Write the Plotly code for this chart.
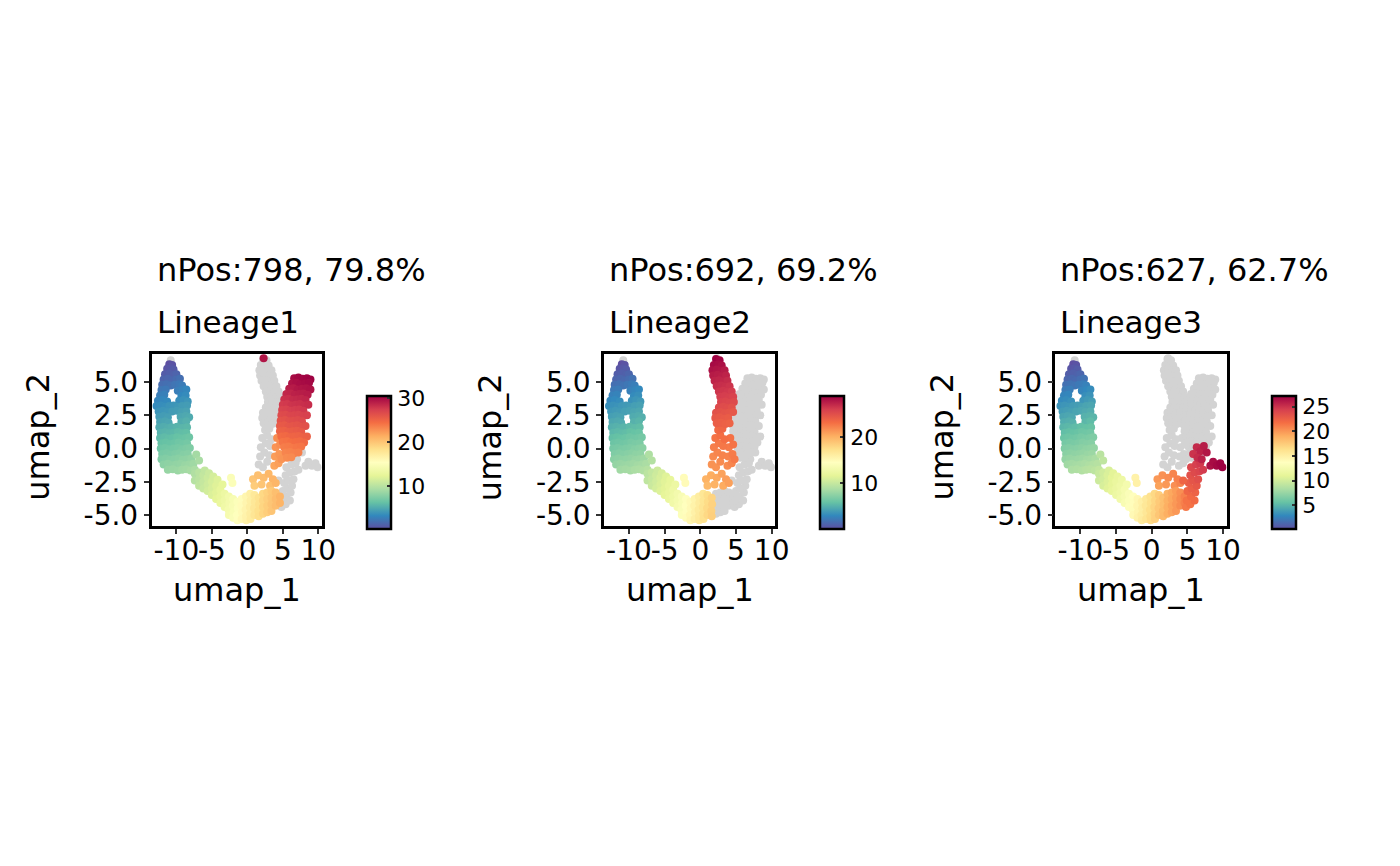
import plotly.graph_objects as go

# ---- cells: umap coordinates and pseudotime, grouped by region ----
# left arm (early trunk, shared by all lineages)
arm_umap1 = [
    -11.0, -10.6,
    -11.3, -10.8, -10.4,
    -11.6, -11.0, -10.4, -10.0,
    -11.8, -11.2, -10.6, -10.0, -9.5,
    -12.0, -11.4, -10.8, -10.2, -9.6, -9.2,
    -12.1, -11.5, -9.8, -9.1, -8.6,
    -12.3, -11.7, -9.3, -8.7,
    -12.6, -12.0, -11.3, -9.6, -9.0, -8.4,
    -12.8, -12.2, -11.6, -11.0, -10.4, -9.8, -9.2, -8.5,
    -12.5, -11.9, -11.3, -10.6, -9.9, -9.3, -8.6,
    -12.4, -11.8, -11.2, -9.4, -8.7, -8.2,
    -12.3, -11.6, -11.1, -9.3, -8.6,
    -12.4, -11.8, -11.2, -10.7, -9.9, -9.2, -8.5,
    -12.2, -11.6, -11.0, -10.4, -9.8, -9.2, -8.6,
    -12.3, -11.7, -11.1, -10.5, -9.9, -9.3, -8.7, -8.2,
    -12.1, -11.5, -10.9, -10.3, -9.7, -9.1, -8.5,
    -12.2, -11.6, -11.0, -10.4, -9.8, -9.2, -8.6, -8.1,
    -12.0, -11.4, -10.8, -10.2, -9.6, -9.0, -8.4,
    -12.1, -11.5, -10.9, -10.3, -9.7, -9.1, -8.5, -7.9,
    -11.8, -11.2, -10.6, -10.0, -9.4, -8.8, -8.2, -7.6,
    -11.2, -10.5, -9.8, -9.2, -8.6, -8.0, -7.4,
    -7.2, -6.8,
]
arm_umap2 = [
    6.35, 6.3,
    6.0, 6.05, 5.95,
    5.6, 5.65, 5.55, 5.6,
    5.2, 5.25, 5.15, 5.2, 5.25,
    4.8, 4.85, 4.75, 4.8, 4.85, 4.75,
    4.4, 4.45, 4.35, 4.4, 4.45,
    4.0, 4.05, 3.95, 4.0,
    3.6, 3.65, 3.55, 3.6, 3.65, 3.55,
    3.2, 3.25, 3.15, 3.2, 3.25, 3.15, 3.2, 3.25,
    2.8, 2.85, 2.75, 2.8, 2.85, 2.75, 2.8,
    2.4, 2.45, 2.35, 2.4, 2.45, 2.35,
    2.0, 2.05, 1.95, 2.0, 2.05,
    1.6, 1.65, 1.55, 1.6, 1.65, 1.55, 1.6,
    1.2, 1.25, 1.15, 1.2, 1.25, 1.15, 1.2,
    0.8, 0.85, 0.75, 0.8, 0.85, 0.75, 0.8, 0.85,
    0.4, 0.45, 0.35, 0.4, 0.45, 0.35, 0.4,
    0.0, 0.05, -0.05, 0.0, 0.05, -0.05, 0.0, 0.05,
    -0.4, -0.35, -0.45, -0.4, -0.35, -0.45, -0.4,
    -0.8, -0.75, -0.85, -0.8, -0.75, -0.85, -0.8, -0.75,
    -1.2, -1.15, -1.25, -1.2, -1.15, -1.25, -1.2, -1.15,
    -1.6, -1.55, -1.65, -1.6, -1.55, -1.65, -1.6,
    -0.45, -0.9,
]
arm_pt = [
    0.2, 0.4,
    0.5, 0.6, 0.8,
    0.9, 1.0, 1.1, 1.3,
    1.3, 1.4, 1.5, 1.7, 1.9,
    1.8, 1.9, 2.0, 2.2, 2.4, 2.6,
    2.3, 2.4, 2.7, 2.9, 3.1,
    2.7, 2.8, 3.2, 3.4,
    3.0, 3.1, 3.3, 3.5, 3.7, 3.9,
    3.4, 3.5, 3.6, 3.8, 3.9, 4.0, 4.2, 4.3,
    3.8, 3.9, 4.0, 4.2, 4.3, 4.5, 4.6,
    4.2, 4.3, 4.4, 4.8, 4.9, 5.0,
    4.6, 4.7, 4.8, 5.1, 5.3,
    5.0, 5.1, 5.2, 5.3, 5.5, 5.6, 5.7,
    5.4, 5.5, 5.6, 5.7, 5.9, 6.0, 6.1,
    5.8, 5.9, 6.0, 6.1, 6.3, 6.4, 6.5, 6.6,
    6.2, 6.3, 6.4, 6.5, 6.7, 6.8, 6.9,
    6.6, 6.7, 6.8, 6.9, 7.0, 7.2, 7.3, 7.4,
    7.0, 7.1, 7.2, 7.3, 7.4, 7.6, 7.7,
    7.4, 7.5, 7.6, 7.7, 7.8, 8.0, 8.1, 8.3,
    7.9, 8.0, 8.1, 8.2, 8.3, 8.5, 8.6, 8.8,
    8.4, 8.5, 8.6, 8.8, 8.9, 9.1, 9.3,
    9.0, 9.2,
]

# bottom band (trunk, shared by all lineages)
bottom_umap1 = [
    -7.4, -7.4,
    -6.8, -6.8, -6.8,
    -6.2, -6.2, -6.2,
    -5.6, -5.6, -5.6,
    -5.0, -5.0, -5.0,
    -4.4, -4.4, -4.4,
    -3.8, -3.8, -3.8,
    -3.2, -3.2, -3.2,
    -2.6, -2.55, -2.65, -2.6,
    -2.0, -2.05, -1.95, -2.0,
    -1.4, -1.35, -1.45, -1.4,
    -0.8, -0.85, -0.75, -0.8,
    -0.2, -0.15, -0.25, -0.2, -0.15,
    0.4, 0.45, 0.35, 0.4, 0.45,
    1.0, 1.05, 0.95, 1.0,
    1.6, 1.65, 1.55, 1.6,
    -2.3, -2.1,
    -6.0, -5.4, -4.8, -4.2, -3.5,
]
bottom_umap2 = [
    -1.9, -2.4,
    -1.8, -2.3, -2.8,
    -2.0, -2.5, -3.0,
    -2.2, -2.7, -3.2,
    -2.5, -3.0, -3.5,
    -2.8, -3.3, -3.8,
    -3.1, -3.6, -4.1,
    -3.4, -3.9, -4.4,
    -3.6, -4.1, -4.6, -5.0,
    -3.8, -4.3, -4.8, -5.2,
    -4.0, -4.5, -5.0, -5.4,
    -3.8, -4.3, -4.8, -5.3,
    -3.6, -4.1, -4.6, -5.1, -5.4,
    -3.4, -3.9, -4.4, -4.9, -5.3,
    -3.5, -4.0, -4.5, -5.0,
    -3.7, -4.2, -4.7, -5.1,
    -2.2, -2.6,
    -1.65, -1.85, -2.1, -2.35, -2.7,
]
bottom_pt = [
    9.6, 9.8,
    10.0, 10.1, 10.3,
    10.5, 10.6, 10.8,
    11.0, 11.1, 11.3,
    11.5, 11.6, 11.8,
    12.0, 12.1, 12.3,
    12.6, 12.7, 12.9,
    13.2, 13.3, 13.5,
    13.8, 13.9, 14.0, 14.2,
    14.4, 14.5, 14.6, 14.8,
    15.0, 15.1, 15.2, 15.4,
    15.6, 15.7, 15.8, 16.0,
    16.2, 16.3, 16.4, 16.5, 16.6,
    16.8, 16.9, 17.0, 17.1, 17.2,
    17.5, 17.6, 17.7, 17.8,
    18.1, 18.2, 18.3, 18.4,
    14.8, 14.9,
    10.4, 10.9, 11.4, 11.9, 12.5,
]

# scattered cells above the bottom band (shared by all lineages)
mid_umap1 = [0.8, 1.5, 2.3, 3.0, 3.6, 1.0, 2.0, 3.2, 4.0]
mid_umap2 = [-2.3, -2.0, -2.2, -1.9, -2.3, -2.8, -2.7, -2.8, -2.6]
mid_pt = [20.0, 20.3, 20.5, 20.8, 21.0, 19.6, 20.0, 20.4, 20.9]

# bottom right (Lineage1 and Lineage3)
botright_umap1 = [2.2, 2.2, 2.2, 2.2, 2.8, 2.8, 2.8, 2.8, 3.4, 3.4, 3.4, 3.4,
                  4.0, 4.0, 4.0, 4.6, 4.6]
botright_umap2 = [-3.4, -3.9, -4.4, -4.9, -3.3, -3.8, -4.3, -4.8, -3.2, -3.7,
                  -4.2, -4.7, -3.3, -3.8, -4.3, -3.6, -4.1]
botright_pt = [18.8, 18.9, 19.0, 19.0, 19.3, 19.4, 19.5, 19.5, 19.8, 19.9,
               20.0, 20.0, 20.4, 20.5, 20.5, 21.0, 21.0]

# lower right stem (Lineage3 only)
lowright_umap1 = [4.8, 5.4, 6.0, 4.9, 5.5, 6.1, 5.0, 5.6, 6.3, 5.2, 5.8, 6.5,
                  5.4, 6.0, 6.7, 5.5, 6.2, 6.8, 4.4, 7.2]
lowright_umap2 = [-4.4, -4.2, -3.9, -3.9, -3.6, -3.3, -3.2, -3.0, -2.8, -2.6,
                  -2.4, -2.3, -2.0, -1.8, -1.7, -1.4, -1.2, -1.1, -2.4, -1.6]
lowright_pt = [21.3, 21.6, 22.0, 21.6, 22.0, 22.4, 22.2, 22.6, 23.0, 22.8,
               23.2, 23.5, 23.4, 23.8, 24.1, 24.0, 24.4, 24.7, 22.3, 24.6]

# right tip (Lineage3 only)
tip_umap1 = [5.8, 6.3, 6.8, 7.3, 7.7, 6.4, 7.0, 8.2, 8.6, 9.1, 9.6, 9.9]
tip_umap2 = [-0.4, 0.1, -0.2, 0.2, -0.3, -0.7, -0.8, -1.3, -1.0, -1.3, -1.1, -1.4]
tip_pt = [25.0, 25.4, 25.7, 26.0, 26.2, 25.3, 25.8, 26.5, 26.7, 26.9, 27.1, 27.2]

# junction of the two upper arms (Lineage1 and Lineage2)
junction_umap1 = [3.8, 4.4, 3.9, 4.5, 4.0, 4.6, 4.2, 4.8]
junction_umap2 = [-1.3, -1.1, -0.6, -0.4, 0.1, 0.3, 0.8, -0.8]
junction_pt = [21.8, 22.1, 22.2, 22.5, 22.6, 22.9, 23.0, 22.6]

# lower part of the middle arm (Lineage2 only)
armalow_umap1 = [1.6, 2.2, 2.8, 1.8, 2.4, 3.1, 1.9, 2.6, 3.2, 2.1, 2.8, 3.4, 2.5, 3.1]
armalow_umap2 = [-1.2, -1.4, -1.0, -0.6, -0.3, -0.5, 0.1, 0.4, 0.2, 0.8, 1.0, 0.7, 1.4, 1.5]
armalow_pt = [21.5, 21.5, 21.8, 21.9, 22.1, 22.2, 22.4, 22.6, 22.7, 22.9, 23.1, 23.1, 23.4, 23.6]

# middle arm (Lineage2 only)
arma_umap1 = [
    2.2, 2.7,
    1.9, 2.5, 3.0,
    1.7, 2.3, 2.9, 3.4,
    1.8, 2.4, 3.0, 3.6,
    2.0, 2.6, 3.2, 3.8,
    2.3, 2.9, 3.5, 4.1,
    2.6, 3.2, 3.8, 4.4,
    2.8, 3.4, 4.0, 4.6,
    2.9, 3.5, 4.1, 4.7,
    2.6, 3.2, 3.8, 4.4,
    2.2, 2.8, 3.4, 4.0, 4.6,
    2.1, 2.7, 3.3, 3.9,
    2.3, 2.9, 3.5, 4.1,
]
arma_umap2 = [
    6.75, 6.65,
    6.3, 6.35, 6.25,
    5.9, 5.95, 5.85, 5.9,
    5.5, 5.55, 5.45, 5.5,
    5.1, 5.15, 5.05, 5.1,
    4.7, 4.75, 4.65, 4.7,
    4.3, 4.35, 4.25, 4.3,
    3.9, 3.95, 3.85, 3.9,
    3.5, 3.55, 3.45, 3.5,
    3.1, 3.15, 3.05, 3.1,
    2.7, 2.75, 2.65, 2.7, 2.75,
    2.3, 2.35, 2.25, 2.3,
    1.9, 1.95, 1.85, 1.9,
]
arma_pt = [
    28.9, 28.7,
    28.5, 28.4, 28.2,
    28.1, 28.0, 27.9, 27.7,
    27.7, 27.6, 27.5, 27.3,
    27.3, 27.2, 27.1, 26.9,
    26.9, 26.8, 26.7, 26.5,
    26.5, 26.4, 26.3, 26.1,
    26.1, 26.0, 25.9, 25.7,
    25.7, 25.6, 25.5, 25.3,
    25.3, 25.2, 25.1, 24.9,
    24.9, 24.8, 24.7, 24.6, 24.5,
    24.5, 24.4, 24.3, 24.2,
    24.1, 24.0, 23.9, 23.8,
]

# right arm (Lineage1 only)
armb_umap1 = [
    6.6, 7.2, 7.8, 8.4, 8.9,
    6.3, 6.9, 7.5, 8.1, 8.7,
    5.9, 6.5, 7.1, 7.7, 8.3, 8.9,
    5.5, 6.1, 6.7, 7.3, 7.9, 8.5,
    5.2, 5.8, 6.4, 7.0, 7.6, 8.2,
    5.0, 5.6, 6.2, 6.8, 7.4, 8.0, 8.6,
    4.9, 5.5, 6.1, 6.7, 7.3, 7.9,
    4.8, 5.4, 6.0, 6.6, 7.2, 7.8, 8.4,
    4.7, 5.3, 5.9, 6.5, 7.1, 7.7,
    4.6, 5.2, 5.8, 6.4, 7.0, 7.6, 8.2,
    4.6, 5.2, 5.8, 6.4, 7.0, 7.6,
    4.8, 5.4, 6.0, 6.6, 7.2, 7.8, 8.4,
    5.0, 5.6, 6.2, 6.8, 7.4, 8.0,
    5.2, 5.8, 6.4, 7.0, 7.6,
    5.4, 6.0, 6.6, 7.2,
    5.6, 6.2,
]
armb_umap2 = [
    5.3, 5.35, 5.25, 5.3, 5.2,
    4.9, 4.95, 4.85, 4.9, 4.95,
    4.5, 4.55, 4.45, 4.5, 4.55, 4.45,
    4.1, 4.15, 4.05, 4.1, 4.15, 4.05,
    3.7, 3.75, 3.65, 3.7, 3.75, 3.65,
    3.3, 3.35, 3.25, 3.3, 3.35, 3.25, 3.3,
    2.9, 2.95, 2.85, 2.9, 2.95, 2.85,
    2.5, 2.55, 2.45, 2.5, 2.55, 2.45, 2.5,
    2.1, 2.15, 2.05, 2.1, 2.15, 2.05,
    1.7, 1.75, 1.65, 1.7, 1.75, 1.65, 1.7,
    1.3, 1.35, 1.25, 1.3, 1.35, 1.25,
    0.9, 0.95, 0.85, 0.9, 0.95, 0.85, 0.9,
    0.5, 0.55, 0.45, 0.5, 0.55, 0.45,
    0.1, 0.15, 0.05, 0.1, 0.15,
    -0.3, -0.25, -0.35, -0.3,
    -0.7, -0.65,
]
armb_pt = [
    30.0, 30.2, 30.3, 30.4, 30.5,
    29.6, 29.8, 29.9, 30.0, 30.1,
    29.1, 29.2, 29.4, 29.5, 29.6, 29.7,
    28.6, 28.7, 28.9, 29.0, 29.1, 29.2,
    28.1, 28.2, 28.4, 28.5, 28.6, 28.7,
    27.6, 27.7, 27.9, 28.0, 28.1, 28.2, 28.3,
    27.1, 27.2, 27.4, 27.5, 27.6, 27.7,
    26.6, 26.7, 26.9, 27.0, 27.1, 27.2, 27.3,
    26.1, 26.2, 26.4, 26.5, 26.6, 26.7,
    25.6, 25.7, 25.9, 26.0, 26.1, 26.2, 26.3,
    25.1, 25.2, 25.4, 25.5, 25.6, 25.7,
    24.6, 24.7, 24.9, 25.0, 25.1, 25.2, 25.3,
    24.1, 24.2, 24.4, 24.5, 24.6, 24.7,
    23.7, 23.8, 23.9, 24.0, 24.1,
    23.3, 23.4, 23.5, 23.6,
    23.0, 23.1,
]

# single Lineage1 cell at the top of the middle arm
stray_umap1 = [2.3]
stray_umap2 = [6.8]
stray_pt = [29.5]

# cell not assigned to any lineage
free_umap1 = [-10.8]
free_umap2 = [6.65]
free_pt = [None]

# ---- lineages ----
lineages = ["Lineage1", "Lineage2", "Lineage3"]
n_pos = [798, 692, 627]
pct_pos = [79.8, 69.2, 62.7]
colored_regions = {
    "Lineage1": ["arm", "bottom", "mid", "botright", "junction", "armb", "stray"],
    "Lineage2": ["arm", "bottom", "mid", "junction", "armalow", "arma"],
    "Lineage3": ["arm", "bottom", "mid", "botright", "lowright", "tip"],
}
cbar_dtick = [10, 10, 5]

regions = {
    "arm": (arm_umap1, arm_umap2, arm_pt),
    "bottom": (bottom_umap1, bottom_umap2, bottom_pt),
    "mid": (mid_umap1, mid_umap2, mid_pt),
    "botright": (botright_umap1, botright_umap2, botright_pt),
    "lowright": (lowright_umap1, lowright_umap2, lowright_pt),
    "tip": (tip_umap1, tip_umap2, tip_pt),
    "junction": (junction_umap1, junction_umap2, junction_pt),
    "armalow": (armalow_umap1, armalow_umap2, armalow_pt),
    "arma": (arma_umap1, arma_umap2, arma_pt),
    "armb": (armb_umap1, armb_umap2, armb_pt),
    "stray": (stray_umap1, stray_umap2, stray_pt),
    "free": (free_umap1, free_umap2, free_pt),
}
for name, (a, b, c) in regions.items():
    assert len(a) == len(b) == len(c), name

# Spectral, reversed (low = blue, high = red)
spectral_r = [
    [0.0, "#5E4FA2"], [0.1, "#3288BD"], [0.2, "#66C2A5"], [0.3, "#ABDDA4"],
    [0.4, "#E6F598"], [0.5, "#FFFFBF"], [0.6, "#FEE08B"], [0.7, "#FDAE61"],
    [0.8, "#F46D43"], [0.9, "#D53E4F"], [1.0, "#9E0142"],
]

#----Mise en page (pixels)----
W, H = 1400, 866
FONT = "DejaVu Sans"
panel_left = [145, 602, 1058]
panel_right = [317, 775, 1231]
panel_top, panel_bottom = 348, 521.5
cbar_left = [363, 820, 1277]
PT_SIZE = 8


def px_x(v):
    return v / W


def px_y(v):
    return 1 - v / H


fig = go.Figure()
annotations = []

for i, lin in enumerate(lineages):
    xa = "x" if i == 0 else f"x{i + 1}"
    ya = "y" if i == 0 else f"y{i + 1}"

    gx, gy = [], []
    cx, cy, cv = [], [], []
    for name, (u1, u2, pt) in regions.items():
        if name in colored_regions[lin]:
            cx += u1
            cy += u2
            cv += pt
        else:
            gx += u1
            gy += u2

    fig.add_trace(go.Scatter(
        x=gx, y=gy, mode="markers", xaxis=xa, yaxis=ya, showlegend=False,
        marker=dict(size=PT_SIZE, color="#D3D3D3", line=dict(width=0)),
    ))
    fig.add_trace(go.Scatter(
        x=cx, y=cy, mode="markers", xaxis=xa, yaxis=ya, showlegend=False,
        marker=dict(
            size=PT_SIZE, color=cv, colorscale=spectral_r, showscale=True,
            line=dict(width=0),
            colorbar=dict(
                x=px_x(cbar_left[i]), xanchor="left", xpad=0,
                y=px_y(457.5), yanchor="middle", ypad=0,
                lenmode="pixels", len=133, thicknessmode="pixels", thickness=24,
                outlinewidth=2.5, outlinecolor="black",
                tick0=0, dtick=cbar_dtick[i], ticks="inside", ticklen=5,
                tickwidth=1.5, tickcolor="#333333",
                tickfont=dict(family=FONT, size=22, color="black"),
            ),
        ),
    ))

    axis_common = dict(
        showline=True, mirror=True, linecolor="black", linewidth=2.5,
        ticks="outside", ticklen=5, tickwidth=2, tickcolor="#333333",
        showgrid=False, zeroline=False, tickangle=0,
        tickfont=dict(family=FONT, size=28, color="black"),
    )
    fig.update_layout(**{
        ("xaxis" if i == 0 else f"xaxis{i + 1}"): dict(
            domain=[px_x(panel_left[i]), px_x(panel_right[i])],
            anchor=ya, range=[-13.5, 10.5],
            tickvals=[-10, -5, 0, 5, 10], ticktext=["-10", "-5", "0", "5", "10"],
            ticklabelstandoff=-7,
            **axis_common,
        ),
        ("yaxis" if i == 0 else f"yaxis{i + 1}"): dict(
            domain=[px_y(panel_bottom), px_y(panel_top)],
            anchor=xa, range=[-5.82, 7.15],
            tickvals=[-5, -2.5, 0, 2.5, 5],
            ticktext=["-5.0", "-2.5", "0.0", "2.5", "5.0"],
            **axis_common,
        ),
    })

    # titres et axes
    annotations += [
        dict(text=f"nPos:{n_pos[i]}, {pct_pos[i]}%", x=px_x(panel_left[i] + 3),
             y=px_y(264), xanchor="left", yanchor="middle",
             font=dict(family=FONT, size=32, color="black")),
        dict(text=lin, x=px_x(panel_left[i] + 3), y=px_y(316),
             xanchor="left", yanchor="middle",
             font=dict(family=FONT, size=31, color="black")),
        dict(text="umap_1", x=px_x((panel_left[i] + panel_right[i]) / 2),
             y=px_y(586), xanchor="center", yanchor="middle",
             font=dict(family=FONT, size=32, color="black")),
        dict(text="umap_2", x=px_x(panel_left[i] - 115), y=px_y(432),
             xanchor="center", yanchor="middle", textangle=-90,
             font=dict(family=FONT, size=32, color="black")),
    ]

for a in annotations:
    a.update(xref="paper", yref="paper", showarrow=False)

fig.update_layout(
    width=W, height=H,
    margin=dict(l=0, r=0, t=0, b=0),
    paper_bgcolor="white", plot_bgcolor="white",
    annotations=annotations,
    font=dict(family=FONT),
)

fig.write_html("out.html")
